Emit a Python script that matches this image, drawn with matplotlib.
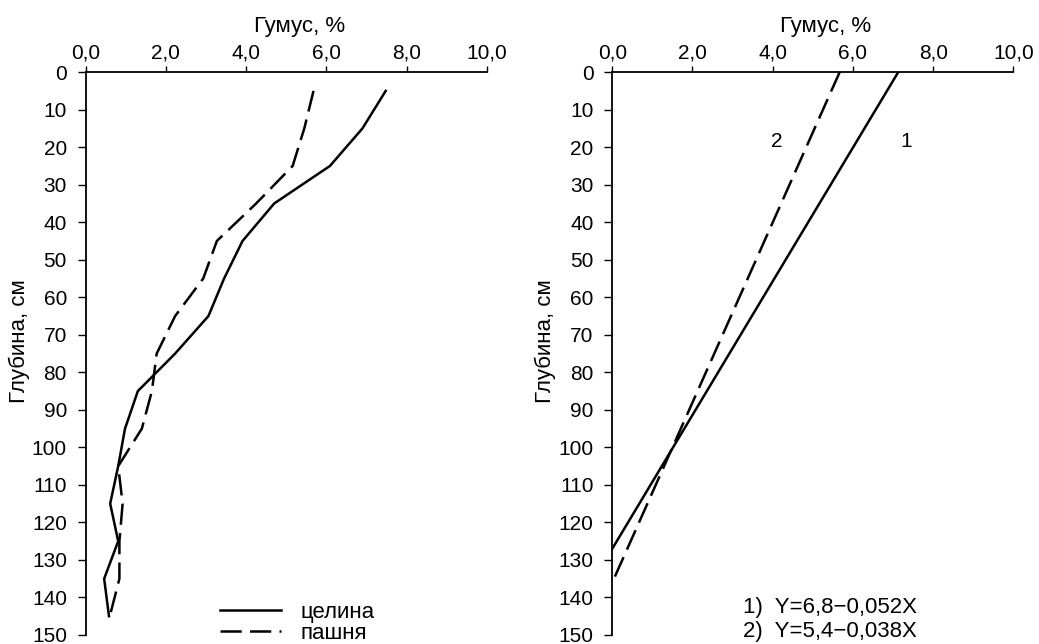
import matplotlib.pyplot as plt
from matplotlib.ticker import FuncFormatter

plt.rcParams['font.family'] = ['Liberation Sans', 'DejaVu Sans']
plt.rcParams['font.size'] = 15

# глубина, см
depth = [5, 15, 25, 35, 45, 55, 65, 75, 85, 95, 105, 115, 125, 135, 145]
# гумус, %
tselina = [7.48, 6.9, 6.09, 4.7, 3.91, 3.45, 3.06, 2.23, 1.30, 0.98, 0.81, 0.61, 0.81, 0.46, 0.58]
pashnya = [5.68, 5.45, 5.16, 4.25, 3.27, 2.93, 2.23, 1.77, 1.65, 1.40, 0.81, 0.92, 0.84, 0.84, 0.60]

# линии регрессии (концы)
reg1_x = [7.13, 0.0]
reg1_depth = [0, 127]
reg2_x = [5.67, 0.0]
reg2_depth = [0, 136]

xticks = [0, 2, 4, 6, 8, 10]
yticks = list(range(0, 151, 10))

fig = plt.figure(figsize=(10.39, 6.44), dpi=100)
ax1 = fig.add_axes([0.0825, 0.014, 0.386, 0.874])
ax2 = fig.add_axes([0.5893, 0.014, 0.386, 0.874])

dash = (0, (8.5, 3.3))
lw = 1.8


def style(ax):
    ax.set_xlim(0, 10)
    ax.set_ylim(150, 0)
    ax.set_xticks(xticks)
    ax.set_yticks(yticks)
    ax.xaxis.set_major_formatter(FuncFormatter(lambda v, p: f'{v:.1f}'.replace('.', ',')))
    ax.xaxis.tick_top()
    ax.xaxis.set_label_position('top')
    ax.spines['right'].set_visible(False)
    ax.spines['bottom'].set_visible(False)
    ax.spines['top'].set_linewidth(1.3)
    ax.spines['left'].set_linewidth(1.3)
    ax.tick_params(axis='x', direction='out', length=4, width=1.0, labelsize=15, pad=3)
    ax.tick_params(axis='y', direction='out', length=5.5, width=1.0, labelsize=15, pad=8)
    ax.set_xlabel('Гумус, %', fontsize=16)
    ax.set_ylabel('Глубина, см', fontsize=16)
    ax.xaxis.set_label_coords(0.532, 1.071)
    ax.yaxis.set_label_coords(-0.140, 0.522)


style(ax1)
ax1.plot(tselina, depth, color='black', lw=lw, label='целина')
ax1.plot(pashnya, depth, color='black', lw=lw, linestyle=dash, label='пашня')
ax1.legend(loc='lower left', bbox_to_anchor=(0.285, -0.051), frameon=False,
           handlelength=2.75, handletextpad=0.85, labelspacing=0.0, fontsize=16)

style(ax2)
ax2.plot(reg1_x, reg1_depth, color='black', lw=lw)
ax2.plot(reg2_x, reg2_depth, color='black', lw=lw, linestyle=dash)
ax2.text(4.1, 18.6, '2', ha='center', va='center', fontsize=15)
ax2.text(7.32, 18.6, '1', ha='center', va='center', fontsize=15)
ax2.text(3.26, 142.6, '1)  Y=6,8\u22120,052X', ha='left', va='center', fontsize=16)
ax2.text(3.26, 149.1, '2)  Y=5,4\u22120,038X', ha='left', va='center', fontsize=16)

fig.savefig('out.png', dpi=100)
